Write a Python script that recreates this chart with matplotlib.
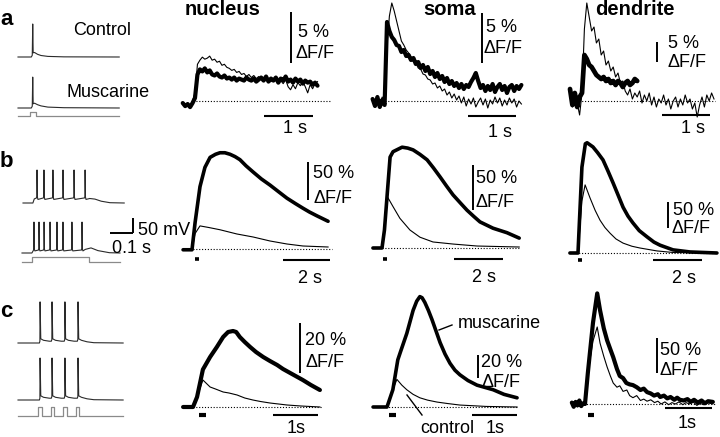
import numpy as np
import matplotlib
matplotlib.use("Agg")
import matplotlib.pyplot as plt

plt.rcParams['font.family'] = ['Liberation Sans', 'DejaVu Sans']

W, H = 720, 437

# ---------------- DATA ----------------
# Row a: single AP, noisy traces sampled every 0.05 s (t in s, dF/F in %)
A_DT = 0.05
A_NUC_T0 = -0.25
A_NUC_MUSC = [-0.2, -0.5, -0.3, -0.6, -0.2, 0.3, 2.6, 3.1, 2.9, 3.2, 2.8, 3.0, 2.6, 2.5, 2.7, 2.4,
              2.3, 2.5, 2.2, 2.3, 2.1, 2.3, 2.0, 2.2, 2.1, 2.0, 2.3, 2.1, 2.0, 2.2, 1.9, 2.1, 2.3,
              2.0, 2.4, 1.9, 2.2, 2.0, 2.3, 1.8, 2.2, 2.0, 2.4, 1.9, 2.1, 1.8, 2.2, 1.9, 2.1, 1.7,
              2.0, 1.8, 1.9, 1.6, 1.8, 1.5]
A_NUC_CTRL = [-0.3, -0.4, -0.2, -0.5, 0.0, 0.8, 3.6, 4.0, 4.3, 4.1, 4.2, 4.4, 4.0, 4.1, 3.8, 3.9,
              3.5, 3.6, 3.3, 3.2, 3.0, 3.1, 2.8, 2.9, 2.6, 2.7, 2.4, 2.6, 2.3, 2.5, 2.2, 2.4, 2.1,
              2.3, 2.0, 2.2, 1.9, 2.1, 2.2, 1.8, 2.0, 1.7, 2.1, 1.4, 1.1, 1.6, 1.2, 1.8, 1.5, 1.9,
              1.4, 0.8, 1.6, 1.2, 1.7, 1.9]
A_SOMA_T0 = -0.30
A_SOMA_MUSC = [0.2, -0.5, 0.4, -0.6, 0.1, -0.4, 7.9, 7.0, 6.4, 6.1, 5.6, 5.5, 4.9, 5.1, 4.5, 4.6,
               4.1, 4.3, 3.7, 3.9, 3.3, 3.6, 3.0, 3.4, 2.7, 3.0, 2.4, 2.8, 2.2, 2.5, 1.9, 2.3, 1.7,
               2.0, 1.5, 1.8, 1.3, 1.7, 1.2, 1.6, 1.4, 1.9, 2.3, 2.8, 2.0, 1.3, 1.6, 1.0, 1.5, 1.1,
               1.7, 0.9, 1.4, 1.7, 1.1, 1.5, 0.8, 1.4, 1.6, 1.0, 1.5, 1.2, 1.6]
A_SOMA_CTRL = [0.0, -0.6, 0.3, -0.3, 0.4, -0.2, 5.5, 8.5, 9.8, 9.0, 8.0, 7.0, 6.0, 5.6, 5.1, 4.8,
               4.4, 4.0, 3.8, 3.3, 3.2, 2.7, 2.6, 2.2, 2.1, 1.7, 1.8, 1.3, 1.5, 1.0, 1.2, 0.6, 0.9,
               0.3, 0.7, 0.1, 0.5, -0.2, 0.4, -0.5, 0.2, -0.3, 0.3, -0.6, -0.1, 0.3, -0.4, 0.2,
               -0.7, 0.1, -0.3, 0.4, -0.2, 0.3, -0.5, 0.1, -0.4, 0.3, -0.2, 0.2, -0.6, 0.0, -0.3]
A_DEND_T0 = -0.25
A_DEND_MUSC = [3.0, -1.0, 2.0, -1.5, 1.0, 2.0, 11.5, 10.5, 9.0, 8.5, 7.5, 6.5, 6.0, 5.5, 6.0, 5.0,
               5.5, 4.5, 5.0, 4.0, 5.0, 4.5, 3.5, 4.5, 5.0, 4.0, 4.5, 5.5, 5.0]
A_DEND_CTRL = [1.0, -1.5, 2.0, -0.5, -3.5, 2.0, 18.0, 24.5, 21.0, 17.5, 18.5, 14.5, 15.5, 11.5, 12.5,
               9.0, 10.0, 7.5, 8.5, 6.0, 7.0, 4.5, 5.0, 2.5, 1.5, 3.0, 0.5, 2.0, 1.0, 2.5, -0.5, 1.5,
               0.0, 2.0, -1.0, 1.0, -1.5, 0.5, -0.5, 1.5, -1.0, 0.5, -2.0, 0.0, 1.0, -1.5, 0.5, -1.0,
               1.5, -0.5, 0.5, -2.0, -0.5, -4.0, -1.0, 1.0, -1.5, 1.5, 0.0, 2.0, 0.5]

# Row b: AP train (t in s, dF/F in %)
B_NUC_MUSC = [(-0.38, -1), (0.0, -1), (0.13, 34), (0.34, 81), (0.55, 106), (0.77, 119), (1.0, 123),
              (1.19, 125), (1.4, 125), (1.62, 123), (1.83, 120), (2.04, 116), (2.3, 108), (2.6, 100),
              (2.95, 91), (3.32, 83), (3.7, 74), (4.04, 66), (4.4, 59), (4.72, 53), (5.0, 48),
              (5.32, 43), (5.79, 36)]
B_NUC_CTRL = [(-0.38, -1), (0.0, -1), (0.13, 20), (0.34, 30), (0.7, 28), (1.19, 25), (1.91, 19.5),
              (2.6, 15.6), (3.32, 10.4), (4.04, 6.5), (4.72, 3.9), (5.79, 2.6)]
B_SOMA_MUSC = [(-0.37, 0), (0.0, 0), (0.1, 20), (0.33, 101), (0.45, 107), (0.82, 112), (1.05, 111),
               (1.27, 109), (1.55, 104), (1.84, 98), (2.1, 89), (2.37, 79), (2.63, 69), (2.9, 59),
               (3.2, 50), (3.47, 42), (3.75, 35), (4.0, 29), (4.53, 22), (5.1, 17), (5.6, 11)]
B_SOMA_CTRL = [(-0.37, 0), (0.0, 0), (0.1, 25), (0.24, 56), (0.45, 46), (0.73, 33), (1.14, 20),
               (1.55, 12), (2.08, 6.7), (2.9, 4.4), (3.88, 2.2), (5.6, 1.1)]
B_DEND_MUSC = [(-0.33, 0), (0.0, 0), (0.16, 165), (0.3, 210), (0.37, 212), (0.61, 204), (0.8, 193),
               (1.02, 179), (1.22, 158), (1.43, 135), (1.64, 111), (1.84, 88), (2.04, 71), (2.24, 58),
               (2.5, 43), (2.82, 31), (3.1, 21), (3.35, 15), (3.88, 6), (4.57, 2), (5.67, 0)]
B_DEND_CTRL = [(-0.33, 0), (0.0, 0), (0.16, 100), (0.29, 131), (0.49, 106), (0.7, 82), (0.9, 63),
               (1.1, 49), (1.31, 38), (1.55, 27), (1.84, 19), (2.2, 13), (2.53, 9.6), (3.22, 4),
               (3.88, 1), (5.67, 0)]

# Row c: 4 APs (t in s, dF/F in %)
C_NUC_MUSC = [(-0.22, 0), (0.0, 0), (0.09, 4), (0.22, 15), (0.38, 20), (0.53, 24), (0.67, 28),
              (0.78, 30), (0.89, 30.4), (0.96, 30), (1.04, 28), (1.15, 26), (1.27, 24), (1.4, 22),
              (1.56, 20), (1.71, 18.4), (1.87, 16.8), (2.0, 15.2), (2.16, 13.6), (2.3, 12.2),
              (2.44, 10.8), (2.62, 8.8), (2.82, 6.8)]
C_NUC_CTRL = [(-0.22, 0), (0.0, 0), (0.09, 4), (0.22, 10.8), (0.38, 8), (0.5, 7.2), (0.67, 6),
              (0.8, 5.6), (0.98, 4.8), (1.15, 3.6), (1.33, 2.8), (1.5, 2.2), (1.71, 1.6),
              (1.9, 1.2), (2.09, 0.8), (2.4, 0.4), (2.82, 0)]
C_SOMA_MUSC = [(-0.31, 0), (0.0, 0), (0.13, 15), (0.24, 41), (0.3, 48), (0.44, 64), (0.58, 84),
               (0.66, 92), (0.73, 96), (0.78, 95), (0.84, 91), (0.92, 84), (1.0, 76), (1.09, 66),
               (1.18, 56), (1.29, 46), (1.4, 38), (1.51, 32), (1.62, 28), (1.8, 23), (2.0, 19),
               (2.18, 17), (2.36, 15), (2.6, 11), (2.89, 8)]
C_SOMA_CTRL = [(-0.31, 0), (0.0, 0), (0.13, 15), (0.22, 24), (0.33, 19), (0.44, 15), (0.58, 11),
               (0.73, 8), (0.9, 6), (1.11, 4.3), (1.35, 3), (1.62, 1.7), (2.2, 0.5), (2.89, 0)]
C_DEND_MUSC = [(-0.28, 2), (-0.24, -4), (-0.2, 3), (-0.16, -2), (-0.12, 5), (-0.08, -3), (-0.04, 1),
               (0.0, 0), (0.06, 44), (0.17, 116), (0.26, 158), (0.32, 134), (0.4, 108), (0.47, 91),
               (0.54, 78), (0.6, 67), (0.68, 50), (0.74, 40), (0.81, 37), (0.88, 30), (0.95, 28),
               (1.02, 27), (1.1, 24), (1.18, 20), (1.25, 22), (1.32, 17), (1.4, 15), (1.47, 12),
               (1.55, 14), (1.6, 10), (1.68, 12), (1.75, 8), (1.82, 10), (1.9, 6), (1.96, 9),
               (2.02, 6), (2.1, 5), (2.18, 7), (2.25, 3), (2.32, 6), (2.4, 2), (2.48, 5), (2.55, 1),
               (2.62, 4), (2.72, 3)]
C_DEND_CTRL = [(-0.28, 1), (-0.24, -3), (-0.2, 2), (-0.16, -4), (-0.12, 3), (-0.08, -2), (-0.04, 2),
               (0.0, 0), (0.06, 44), (0.17, 90), (0.26, 110), (0.32, 87), (0.4, 68), (0.47, 53),
               (0.54, 40), (0.6, 30), (0.68, 24), (0.74, 26), (0.81, 18), (0.89, 20), (0.95, 12),
               (1.02, 9), (1.1, 12), (1.18, 5), (1.25, 7), (1.32, 4), (1.4, 6), (1.48, 2), (1.55, 4),
               (1.62, 0), (1.7, 3), (1.78, -1), (1.85, 2), (1.92, 0), (2.0, 3), (2.08, -1), (2.15, 2),
               (2.22, 0), (2.3, 3), (2.38, -2), (2.45, 1), (2.52, -1), (2.6, 2), (2.72, 0)]

# Electrophysiology (t in s, V in mV relative to rest)
EA_CTRL = [(0, 0), (0.058, 0), (0.062, 6), (0.064, 110), (0.066, 14), (0.072, 15), (0.085, 9),
           (0.1, 5), (0.13, 2), (0.2, 0.5), (0.44, 0)]
EA_MUSC = [(0, 0), (0.058, 0), (0.062, 6), (0.064, 103), (0.066, 14), (0.072, 16), (0.085, 11),
           (0.1, 7), (0.13, 3), (0.2, 1), (0.44, 0)]
EA_STIM = [(0, 0), (0.052, 0), (0.052, 1), (0.078, 1), (0.078, 0), (0.44, 0)]

EB_CTRL_SPIKES = [0.061, 0.091, 0.130, 0.174, 0.222, 0.270]
EB_MUSC_SPIKES = [0.052, 0.074, 0.096, 0.122, 0.152, 0.178, 0.217, 0.261]
EB_CTRL_PEAK, EB_MUSC_PEAK = 110, 103
EB_STEP = (0.043, 0.291)
EB_CTRL_PLATEAU, EB_MUSC_PLATEAU = 17, 10
EB_CTRL_TAIL = [(0.29, 15), (0.313, 13), (0.34, 6), (0.378, 1), (0.44, 0)]
EB_MUSC_TAIL = [(0.275, 12), (0.30, 17), (0.33, 8), (0.38, 1), (0.426, 0)]
EB_STIM = [(0, 0), (0.043, 0), (0.043, 1), (0.291, 1), (0.291, 0), (0.426, 0)]

EC_SPIKES = [0.096, 0.148, 0.204, 0.261]
EC_CTRL_PEAK, EC_MUSC_PEAK = 137, 140
EC_ADP = [(0.003, 14), (0.015, 9), (0.04, 6)]          # after-potential following each spike
EC_TAIL = [(0.3, 4), (0.33, 1), (0.457, 0)]
EC_STIM_PULSES = [(0.087, 0.104), (0.143, 0.157), (0.196, 0.213), (0.252, 0.265)]
EC_T_END = 0.457

# ---------------- FIGURE ----------------
fig = plt.figure(figsize=(7.2, 4.37), dpi=100)
fig.patch.set_facecolor('white')


def panel(x0, y0, pps, ppu):
    """Full-figure transparent axes: pixel (x0, y0) is data (0, 0)."""
    ax = fig.add_axes([0, 0, 1, 1], facecolor='none')
    ax.set_xlim(-x0 / pps, (W - x0) / pps)
    ax.set_ylim((y0 - H) / ppu, y0 / ppu)
    ax.axis('off')
    ax._px = (x0, y0, pps, ppu)
    return ax


def to_data(ax, x, y):
    x0, y0, pps, ppu = ax._px
    return (x - x0) / pps, (y0 - y) / ppu


def pairs(p):
    a = np.array(p, dtype=float)
    return a[:, 0], a[:, 1]


def uniform(t0, vals):
    return t0 + A_DT * np.arange(len(vals)), np.array(vals, dtype=float)


THICK = dict(color='black', lw=2.6, solid_joinstyle='round', solid_capstyle='round')
THIN = dict(color='black', lw=0.8)
EPH = dict(color='#2a2a2a', lw=0.8)
STIM = dict(color='#8a8a8a', lw=0.9)


def ca_panel(x0, y0, pps, ppu, musc, ctrl, vbar, hbar, dots, stim=None, thick_lw=2.6):
    ax = panel(x0, y0, pps, ppu)
    ta, _ = to_data(ax, dots[0], y0)
    tb, _ = to_data(ax, dots[1], y0)
    ax.plot([ta, tb], [0, 0], color='black', lw=0.8, ls=(0, (1, 1.6)))
    ax.plot(*ctrl, **THIN, zorder=3)
    kw = dict(THICK)
    kw['lw'] = thick_lw
    ax.plot(*musc, **kw, zorder=2)
    # vertical scale bar
    vx, vy, vlen = vbar
    t, v = to_data(ax, vx, vy)
    ax.plot([t, t], [v, v + vlen], color='black', lw=1.4, solid_capstyle='butt')
    # horizontal scale bar
    hx, hy, hlen = hbar
    t, v = to_data(ax, hx, hy)
    ax.plot([t, t + hlen], [v, v], color='black', lw=1.5, solid_capstyle='butt')
    if stim is not None:
        sx0, sx1, sy, slw = stim
        t0, v = to_data(ax, sx0, sy)
        t1, _ = to_data(ax, sx1, sy)
        ax.plot([t0, t1], [v, v], color='black', lw=slw, solid_capstyle='butt')
    return ax


# Row a
ca_panel(195, 101, 49, 10.2, uniform(A_NUC_T0, A_NUC_MUSC), uniform(A_NUC_T0, A_NUC_CTRL),
         (291, 63, 5), (264, 116, 1), (193, 330), thick_lw=3.0)
ca_panel(387, 101, 48, 10.0, uniform(A_SOMA_T0, A_SOMA_MUSC), uniform(A_SOMA_T0, A_SOMA_CTRL),
         (482, 63, 5), (468, 116, 1), (382, 520), thick_lw=3.0)
ca_panel(582, 101, 48, 4.0, uniform(A_DEND_T0, A_DEND_MUSC), uniform(A_DEND_T0, A_DEND_CTRL),
         (657, 62, 5), (662, 115, 1), (573, 715), thick_lw=3.4)

# Row b
ca_panel(192, 249, 23.5, 0.77, pairs(B_NUC_MUSC), pairs(B_NUC_CTRL),
         (308, 200, 50), (283, 260, 2), (190, 332), stim=(195, 198.5, 258.5, 2.6))
ca_panel(382, 248, 24.5, 0.9, pairs(B_SOMA_MUSC), pairs(B_SOMA_CTRL),
         (473, 210, 50), (454, 259, 2), (382, 520), stim=(383, 386.5, 258.5, 2.6))
ca_panel(578, 253, 24.5, 0.52, pairs(B_DEND_MUSC), pairs(B_DEND_CTRL),
         (668, 228, 50), (653, 260, 2), (570, 717), stim=(578, 582, 259.5, 2.6))

# Row c
ca_panel(193, 407, 45, 2.5, pairs(C_NUC_MUSC), pairs(C_NUC_CTRL),
         (300, 373, 20), (273, 415, 1), (190, 322), stim=(199, 206, 415, 3.0), thick_lw=3.0)
ca_panel(387, 407, 45, 1.15, pairs(C_SOMA_MUSC), pairs(C_SOMA_CTRL),
         (478, 378, 20), (472, 415, 1), (377, 518), stim=(389, 396, 415, 3.0))
ca_panel(585, 404, 47, 0.7, pairs(C_DEND_MUSC), pairs(C_DEND_CTRL),
         (657, 373, 50), (665, 408, 1), (572, 715), stim=(588, 594, 415, 3.0), thick_lw=3.0)


# ---------- electrophysiology ----------
def train_b(spikes, peak, plateau, tail):
    on, off = EB_STEP
    pts = [(0, 0), (on, 0), (on + 0.006, plateau * 0.8)]
    for ts in spikes:
        pts += [(ts - 0.002, plateau), (ts - 0.0005, plateau + 5), (ts, peak),
                (ts + 0.0015, plateau + 3), (ts + 0.004, plateau * 0.7)]
    return pairs(pts + tail)


def train_c(peak):
    pts = [(0, 0)]
    prev = 0
    for ts in EC_SPIKES:
        pts += [(ts - 0.003, prev), (ts - 0.0008, prev + 6), (ts, peak)]
        pts += [(ts + dt, v) for dt, v in EC_ADP]
        prev = EC_ADP[-1][1]
    last = EC_SPIKES[-1]
    pts = [p for p in pts if p[0] <= last + EC_ADP[1][0]]
    return pairs(pts + EC_TAIL)


def stim_c():
    pts = [(0, 0)]
    for a, b in EC_STIM_PULSES:
        pts += [(a, 0), (a, 1), (b, 1), (b, 0)]
    pts.append((EC_T_END, 0))
    return pairs(pts)


EPPS = 230.0
EPPU = 0.3
panel(18, 57, EPPS, EPPU).plot(*pairs(EA_CTRL), **EPH)
panel(18, 108, EPPS, EPPU).plot(*pairs(EA_MUSC), **EPH)
panel(18, 116, EPPS, 4).plot(*pairs(EA_STIM), **STIM)

panel(23, 203, EPPS, EPPU).plot(*train_b(EB_CTRL_SPIKES, EB_CTRL_PEAK, EB_CTRL_PLATEAU, EB_CTRL_TAIL), **EPH)
axb = panel(22, 253, EPPS, EPPU)
axb.plot(*train_b(EB_MUSC_SPIKES, EB_MUSC_PEAK, EB_MUSC_PLATEAU, EB_MUSC_TAIL), **EPH)
panel(22, 262, EPPS, 5).plot(*pairs(EB_STIM), **STIM)
# ephys scale bars: 0.1 s and 50 mV
t, v = to_data(axb, 110, 233)
axb.plot([t, t + 0.1], [v, v], color='black', lw=1.4, solid_capstyle='butt')
axb.plot([t + 0.1, t + 0.1], [v, v + 50], color='black', lw=1.4, solid_capstyle='butt')

panel(18, 343, EPPS, EPPU).plot(*train_c(EC_CTRL_PEAK), **EPH)
panel(18, 400, EPPS, EPPU).plot(*train_c(EC_MUSC_PEAK), **EPH)
panel(18, 416, EPPS, 9).plot(*stim_c(), **STIM)

# ---------- text overlay (pixel coordinates) ----------
ov = fig.add_axes([0, 0, 1, 1], facecolor='none')
ov.set_xlim(0, W)
ov.set_ylim(H, 0)
ov.axis('off')

FS = 13
FB = 14.5


def txt(x, y, s, ha='left', size=FS, weight='normal'):
    ov.text(x, y, s, ha=ha, va='baseline', fontsize=size, fontweight=weight)


txt(0, 25, 'a', size=16, weight='bold')
txt(0, 167, 'b', size=16, weight='bold')
txt(0, 317, 'c', size=16, weight='bold')
txt(73, 35, 'Control')
txt(66, 97, 'Muscarine')
txt(185, 15, 'nucleus', size=FB, weight='bold')
txt(423, 15, 'soma', size=FB, weight='bold')
txt(595, 15, 'dendrite', size=FB, weight='bold')

# row a scale labels
txt(298, 37, '5 %'); txt(296, 58, 'ΔF/F'); txt(295, 133, '1 s', ha='center')
txt(486, 32, '5 %'); txt(483, 53, 'ΔF/F'); txt(500, 137, '1 s', ha='center')
txt(668, 48, '5 %'); txt(667, 67, 'ΔF/F'); txt(693, 133, '1 s', ha='center')
# row b
txt(138, 235, '50 mV'); txt(112, 253, '0.1 s')
txt(313, 178, '50 %'); txt(313, 203, 'ΔF/F'); txt(310, 283, '2 s', ha='center')
txt(476, 183, '50 %'); txt(475, 207, 'ΔF/F'); txt(484.5, 282, '2 s', ha='center')
txt(673, 215, '50 %'); txt(672, 233, 'ΔF/F'); txt(683.5, 283, '2 s', ha='center')
# row c
txt(305, 345, '20 %'); txt(305, 367, 'ΔF/F'); txt(296, 433, '1s', ha='center')
txt(481, 367, '20 %'); txt(481, 387, 'ΔF/F'); txt(495.5, 433, '1s', ha='center')
txt(660, 355, '50 %'); txt(660, 375, 'ΔF/F'); txt(687.5, 428, '1s', ha='center')
txt(458, 328, 'muscarine')
txt(420, 433, 'control')
ov.plot([439, 452], [330, 325], color='black', lw=1.0)
ov.plot([407, 422], [395, 415], color='black', lw=1.0)

fig.savefig('out.png', dpi=100, facecolor='white')
